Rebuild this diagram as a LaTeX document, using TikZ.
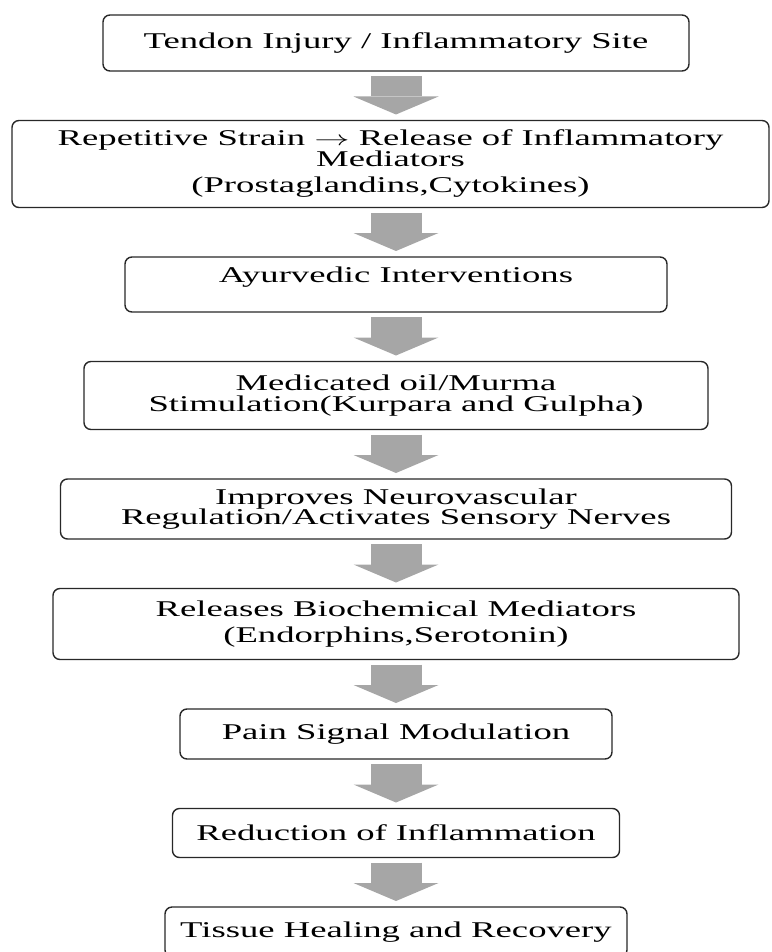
\documentclass[tikz,border=0pt]{standalone}
\usepackage{fontspec}
\setmainfont{Liberation Serif}[FakeStretch=1.63]
\usetikzlibrary{positioning,arrows.meta}
\definecolor{arrowgray}{RGB}{166,166,166}
\definecolor{boxline}{RGB}{40,40,40}

\begin{document}
\begin{tikzpicture}[node distance = 49.5pt,
    box/.style = {draw=boxline, line width=1.4pt, rounded corners=7pt, align=center, inner sep=0pt, outer sep=0pt, font=\fontsize{22.5pt}{20.5pt}\selectfont},
    flow/.style = {draw=arrowgray, line width=51pt, -{Triangle[width=85pt, length=18pt, line width=0pt, fill=arrowgray]}}]
    \useasboundingbox (0,0) rectangle (771pt,-952pt);
    \node[box, minimum width=586pt, minimum height=56pt, below] (injury) at (396pt,-15pt) {Tendon Injury / Inflammatory Site};
    \node[box, minimum width=757pt, minimum height=87pt, below=of injury, xshift=-5.5pt] (strain) {Repetitive Strain \scalebox{1.7}[1]{$\rightarrow$} Release of Inflammatory\\ Mediators\\[6pt] (Prostaglandins,Cytokines)};
    \node[box, minimum width=542pt, minimum height=55pt, text depth=20pt, below=of strain, xshift=5.5pt] (ayur) {Ayurvedic Interventions};
    \node[box, minimum width=624pt, minimum height=68pt, below=of ayur] (oil) {Medicated oil/Murma\\ Stimulation(Kurpara and Gulpha)};
    \node[box, minimum width=671pt, minimum height=60pt, below=of oil] (nerves) {Improves Neurovascular\\ Regulation/Activates Sensory Nerves};
    \node[box, minimum width=686pt, minimum height=71pt, below=of nerves] (mediators) {Releases Biochemical Mediators\\[6pt] (Endorphins,Serotonin)};
    \node[box, minimum width=432pt, minimum height=50pt, below=of mediators] (pain) {Pain Signal Modulation};
    \node[box, minimum width=447pt, minimum height=49pt, below=of pain] (reduction) {Reduction of Inflammation};
    \node[box, minimum width=462pt, minimum height=50pt, below=of reduction] (healing) {Tissue Healing and Recovery};
    % block arrows between the steps
    \draw[flow] ([yshift=-5pt]injury.south) -- ([yshift=6pt]strain.north -| injury.south);
    \draw[flow] ([yshift=-5pt]strain.south -| ayur.north) -- ([yshift=6pt]ayur.north);
    \draw[flow] ([yshift=-5pt]ayur.south) -- ([yshift=6pt]oil.north);
    \draw[flow] ([yshift=-5pt]oil.south) -- ([yshift=6pt]nerves.north);
    \draw[flow] ([yshift=-5pt]nerves.south) -- ([yshift=6pt]mediators.north);
    \draw[flow] ([yshift=-5pt]mediators.south) -- ([yshift=6pt]pain.north);
    \draw[flow] ([yshift=-5pt]pain.south) -- ([yshift=6pt]reduction.north);
    \draw[flow] ([yshift=-5pt]reduction.south) -- ([yshift=6pt]healing.north);
\end{tikzpicture}
\end{document}
